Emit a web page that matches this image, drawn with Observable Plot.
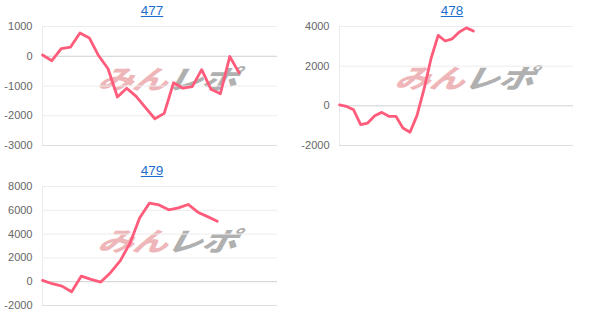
<!DOCTYPE html>
<html>
<head>
<meta charset="utf-8">
<script src="https://cdn.jsdelivr.net/npm/d3@7"></script>
<script src="https://cdn.jsdelivr.net/npm/@observablehq/plot@0.6"></script>
<style>
  html, body { margin: 0; padding: 0; background: #fff; }
  #root { position: relative; width: 604px; height: 333px; overflow: hidden; font-family: "Liberation Sans", Arial, sans-serif; }
  .panel { position: absolute; width: 300px; height: 165px; }
  .title { position: absolute; left: 2px; top: 3px; width: 300px; text-align: center; font-size: 13.5px; line-height: 15px; }
  .title a { color: #1b6fce; text-decoration: underline; }
  .wm { position: absolute; white-space: nowrap; font-family: "Noto Sans CJK JP", sans-serif; font-weight: 900; font-style: italic; font-size: 31px; line-height: 31px; letter-spacing: -1px; transform: translate(-50%, -50%) skewX(-12deg) scale(1.15, 0.85); }
  .wm .a { color: rgba(222, 110, 115, 0.5); }
  .wm .b { color: rgba(150, 150, 150, 0.75); }
  .plot { position: absolute; left: 0; top: 0; }
</style>
</head>
<body>
<div id="root"></div>
<script>
// ---- data ----
const titles = ["477", "478", "479"];
const values477 = [40, -150, 255, 310, 780, 615, 15, -420, -1370, -1075, -1350, -1730, -2100, -1920, -890, -1075, -1020, -450, -1110, -1260, -10, -560];
const values478 = [50, -30, -200, -950, -870, -500, -330, -530, -530, -1120, -1330, -480, 850, 2400, 3550, 3270, 3380, 3720, 3930, 3770];
const values479 = [110, -170, -370, -850, 470, 195, -30, 760, 1750, 3220, 5350, 6600, 6450, 6040, 6210, 6490, 5840, 5470, 5080];
const ticks477 = [-3000, -2000, -1000, 0, 1000];
const ticks478 = [-2000, 0, 2000, 4000];
const ticks479 = [-2000, 0, 2000, 4000, 6000, 8000];
const xSpan = [25.1, 33.2, 24.2];

const panels = [
  {title: titles[0], values: values477, ticks: ticks477, xMax: xSpan[0], left: 0, top: 0, ml: 42, mr: 23, wm: [168, 78]},
  {title: titles[1], values: values478, ticks: ticks478, xMax: xSpan[1], left: 300, top: 0, ml: 39, mr: 27, wm: [165, 77]},
  {title: titles[2], values: values479, ticks: ticks479, xMax: xSpan[2], left: 0, top: 160, ml: 42, mr: 23, wm: [168, 80]}
];

const root = document.getElementById("root");

for (const p of panels) {
  const div = document.createElement("div");
  div.className = "panel";
  div.style.left = p.left + "px";
  div.style.top = p.top + "px";

  const t = document.createElement("div");
  t.className = "title";
  t.innerHTML = `<a href="#">${p.title}</a>`;
  div.appendChild(t);

  const wm = document.createElement("div");
  wm.className = "wm";
  wm.style.left = p.wm[0] + "px";
  wm.style.top = p.wm[1] + "px";
  wm.innerHTML = `<span class="a">みん</span><span class="b">レポ</span>`;
  div.appendChild(wm);

  const data = p.values.map((v, i) => ({i, v}));
  const yDomain = [p.ticks[0], p.ticks[p.ticks.length - 1]];
  const svg = Plot.plot({
    width: 300,
    height: 160,
    marginLeft: p.ml,
    marginRight: p.mr,
    marginTop: 26,
    marginBottom: 15,
    style: {background: "transparent", fontFamily: "'Liberation Sans', Arial, sans-serif", fontSize: "11px", color: "#666", overflow: "visible"},
    x: {domain: [0, p.xMax], axis: null},
    y: {domain: yDomain, ticks: p.ticks, tickSize: 0, tickPadding: 10, label: null, tickFormat: d => String(d)},
    marks: [
      Plot.ruleY(p.ticks.filter(d => d !== 0 && d !== yDomain[0]), {stroke: "#ececec"}),
      Plot.ruleY([yDomain[0]], {stroke: "#dedede"}),
      Plot.ruleY([0], {stroke: "#cfcfcf"}),
      Plot.ruleX([0], {stroke: "#ebebeb"}),
      Plot.line(data, {x: "i", y: "v", stroke: "#ff5b7b", strokeWidth: 2.8, strokeLinejoin: "round", strokeLinecap: "round"})
    ]
  });
  svg.classList.add("plot");
  div.appendChild(svg);
  root.appendChild(div);
}
</script>
</body>
</html>
